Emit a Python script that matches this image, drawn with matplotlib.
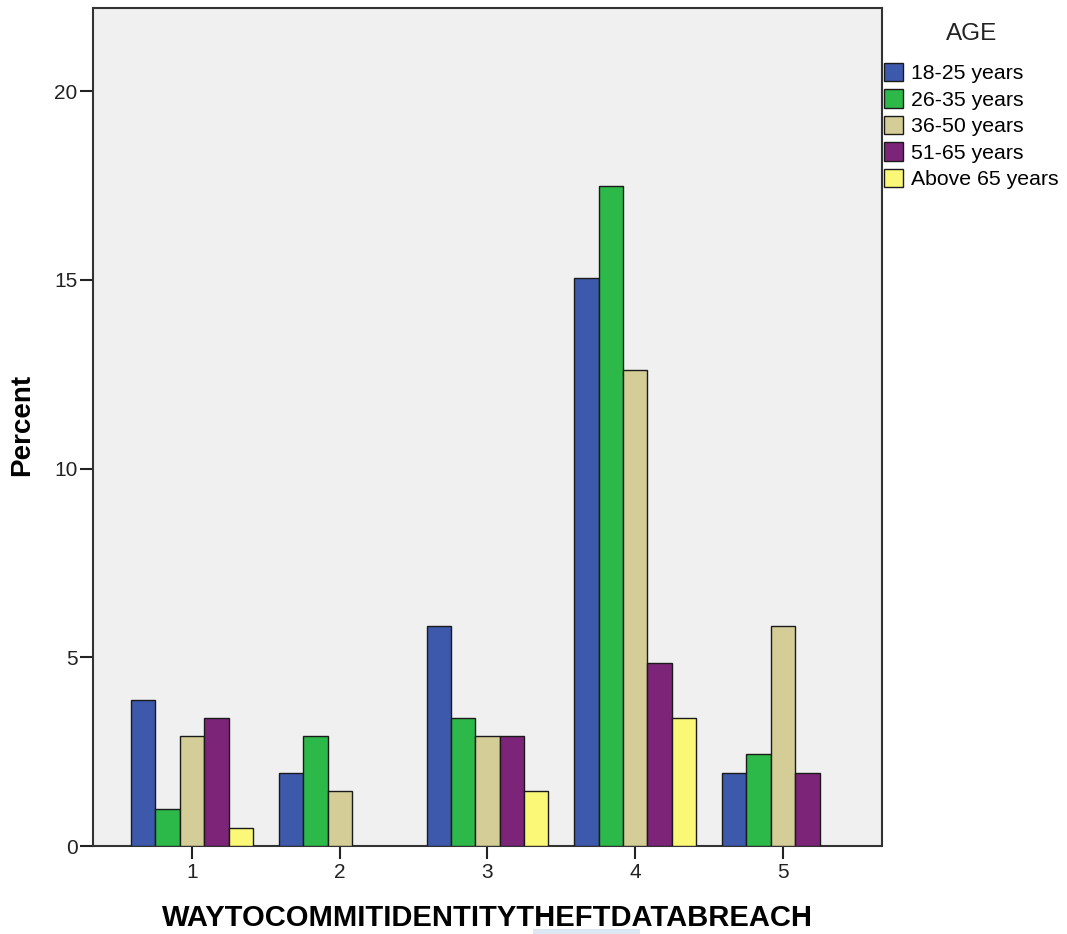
import matplotlib
matplotlib.use("Agg")
import matplotlib.pyplot as plt
import numpy as np
from matplotlib.patches import Rectangle

plt.rcParams['font.family'] = ['Liberation Sans', 'DejaVu Sans']

categories = ["1", "2", "3", "4", "5"]
series_names = ["18-25 years", "26-35 years", "36-50 years", "51-65 years", "Above 65 years"]
colors = ["#3d59ab", "#2db84a", "#d4cd97", "#7c2478", "#fbf877"]

s_18_25 = [3.88, 1.94, 5.83, 15.05, 1.94]
s_26_35 = [0.97, 2.91, 3.40, 17.48, 2.43]
s_36_50 = [2.91, 1.46, 2.91, 12.62, 5.83]
s_51_65 = [3.40, 0.0, 2.91, 4.85, 1.94]
s_65_up = [0.49, 0.0, 1.46, 3.40, 0.0]
series = [s_18_25, s_26_35, s_36_50, s_51_65, s_65_up]

yticks = [0, 5, 10, 15, 20]

W, H = 1067, 934
fig = plt.figure(figsize=(W / 100, H / 100), dpi=100)
ax = fig.add_axes([93 / W, 1 - 846 / H, (882 - 93) / W, (846 - 8) / H])
ax.set_facecolor("#f0f0f0")

x = np.arange(1, len(categories) + 1)
bw = 0.165
for i, (vals, name, c) in enumerate(zip(series, series_names, colors)):
    offs = (i - 2) * bw
    v = np.array(vals)
    mask = v > 0
    ax.bar(x[mask] + offs, v[mask], width=bw, color=c, edgecolor="#1a1a1a",
           linewidth=1.0, label=name, zorder=3)

ax.set_xlim(0.33, 5.67)
ax.set_ylim(0, 22.2)
ax.set_xticks(x)
ax.set_xticklabels(categories)
ax.set_yticks(yticks)
ax.tick_params(axis="both", direction="out", length=9.5, width=1.5, labelsize=15,
               colors="#222222")
ax.tick_params(axis="y", pad=1.5)
ax.tick_params(axis="x", pad=3)
for sp in ax.spines.values():
    sp.set_linewidth(1.5)
    sp.set_color("#333333")

ax.set_ylabel("Percent", fontsize=20, fontweight="bold", va="center", ha="center")
ax.yaxis.set_label_coords((22 - 93) / 789, (846 - 425) / 838)
ax.set_xlabel("WAYTOCOMMITIDENTITYTHEFTDATABREACH", fontsize=21, fontweight="bold",
              va="center", ha="center")
ax.xaxis.set_label_coords(0.5, -(917.5 - 846) / 838)

# legend outside
handles, labels = ax.get_legend_handles_labels()
fig.text(972 / W, 1 - 34 / H, "AGE", fontsize=17.5, ha="center", va="center",
         color="#222222")
leg = fig.legend(handles, labels, loc="upper left",
                 bbox_to_anchor=(884 / W, 1 - 63 / H), frameon=False,
                 fontsize=15.3, handlelength=0.9, handleheight=0.95,
                 handletextpad=0.35, labelspacing=0.28, borderpad=0, borderaxespad=0)
for p in leg.get_patches():
    p.set_edgecolor("#1a1a1a")

# light highlight artifact under x label
fig.add_artist(Rectangle((533 / W, 0), (640 - 533) / W, 5 / H, transform=fig.transFigure,
                         facecolor="#dde7f1", edgecolor="none"))

fig.savefig("out.png", dpi=100, facecolor="white")
